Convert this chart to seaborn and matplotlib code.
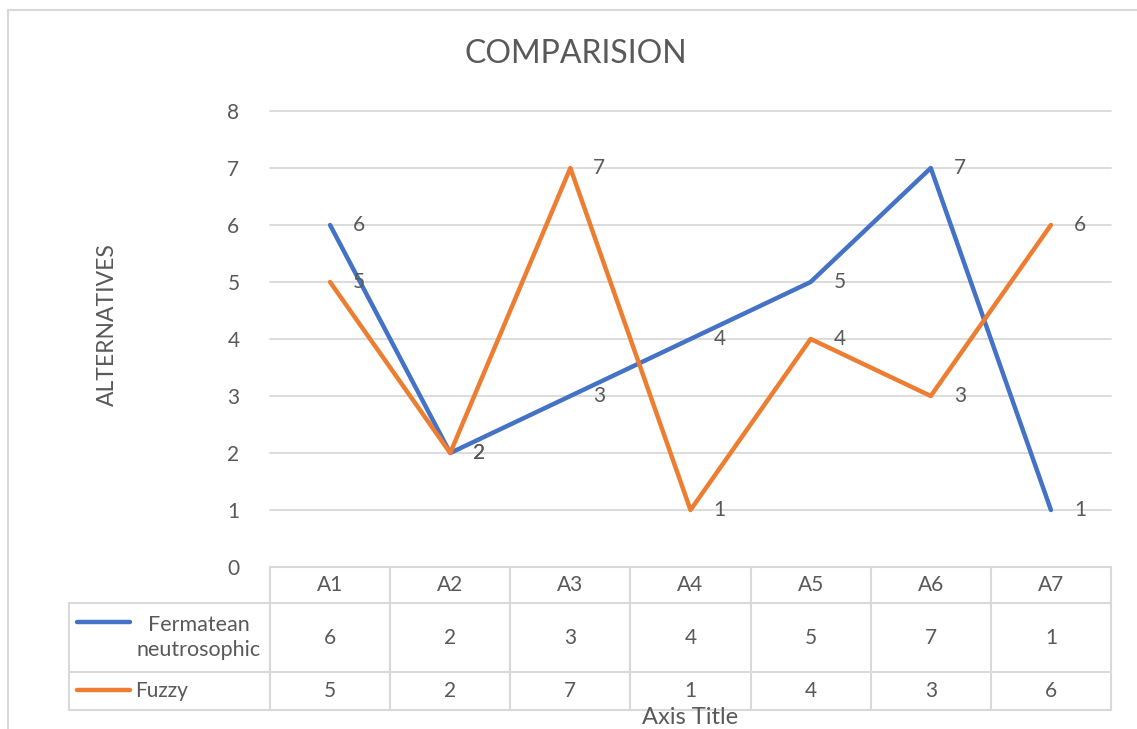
import matplotlib
matplotlib.use("Agg")
import matplotlib.pyplot as plt
import seaborn as sns
import pandas as pd

# Chart data
categories = ["A1", "A2", "A3", "A4", "A5", "A6", "A7"]
fermatean = [6, 2, 3, 4, 5, 7, 1]
fuzzy = [5, 2, 7, 1, 4, 3, 6]
series_names = ["Fermatean\nneutrosophic", "Fuzzy"]
y_ticks = [0, 1, 2, 3, 4, 5, 6, 7, 8]

BLUE = "#4472C4"
ORANGE = "#ED7D31"
TEXT = "#595959"
GRID = "#D9D9D9"
FS = 15

sns.set_theme(style="white")
plt.rcParams["font.family"] = ["Lato", "DejaVu Sans"]

W, H = 1137, 729
fig = plt.figure(figsize=(W / 100, H / 100), dpi=100)


def fx(px):
    return px / W


def fy(py):
    return 1 - py / H


# Outer chart frame
fig.add_artist(plt.Line2D([fx(8), fx(8)], [fy(10), 0], color=GRID, lw=1.5))
fig.add_artist(plt.Line2D([fx(8), 1], [fy(10), fy(10)], color=GRID, lw=1.5))

# Plot area
PL, PR, PT, PB = 270, 1111, 111, 567
ax = fig.add_axes([fx(PL), fy(PB), fx(PR) - fx(PL), fy(PT) - fy(PB)])

df = pd.DataFrame({
    "x": list(range(len(categories))) * 2,
    "value": fermatean + fuzzy,
    "series": [series_names[0]] * len(categories) + [series_names[1]] * len(categories),
})
sns.lineplot(data=df, x="x", y="value", hue="series",
             palette=[BLUE, ORANGE], linewidth=3.2, legend=False, ax=ax,
             solid_capstyle="round", solid_joinstyle="round", zorder=3)

ax.set_xlim(-0.5, len(categories) - 0.5)
ax.set_ylim(y_ticks[0], y_ticks[-1])
ax.set_yticks(y_ticks)
ax.set_yticklabels([str(t) for t in y_ticks])
ax.set_xticks([])
for t in y_ticks:
    ax.axhline(t, color=GRID, lw=1.3, zorder=1, clip_on=False)
for s in ax.spines.values():
    s.set_visible(False)
ax.tick_params(axis="y", length=0, pad=22, labelsize=FS, labelcolor=TEXT)
ax.set_xlabel("")
ax.set_ylabel("")

# Data labels to the right of each point
for vals in (fermatean, fuzzy):
    for i, v in enumerate(vals):
        ax.annotate(str(v), (i, v), xytext=(29, 0), textcoords="offset pixels",
                    ha="center", va="center", fontsize=FS, color=TEXT, zorder=4)

# Title and axis titles
fig.text(fx(576), fy(54), "COMPARISION", ha="center", va="center",
         fontsize=23, color=TEXT)
fig.text(fx(107), fy(325), "ALTERNATIVES", ha="center", va="center",
         rotation=90, fontsize=16.5, color=TEXT)
fig.text(fx(690), fy(718), "Axis Title", ha="center", va="center",
         fontsize=17, color=TEXT)

# Data table below the plot
TB = 710
tab = fig.add_axes([fx(PL), fy(TB), fx(PR) - fx(PL), fy(PB) - fy(TB)])
tab.set_xlim(ax.get_xlim())
tab.set_ylim(TB - PB, 0)
tab.axis("off")

n = len(categories)
px_per_cat = (PR - PL) / n


def cx(px):
    return (px - PL) / px_per_cat - 0.5


row_lines = [0, 603 - PB, 672 - PB, TB - PB]
left = cx(69)
# Horizontal lines
tab.plot([-0.5, n - 0.5], [row_lines[0]] * 2, color=GRID, lw=1.5, clip_on=False)
for r in row_lines[1:]:
    tab.plot([left, n - 0.5], [r, r], color=GRID, lw=1.5, clip_on=False)
# Vertical lines
for k in range(n + 1):
    tab.plot([k - 0.5, k - 0.5], [row_lines[0], row_lines[-1]], color=GRID, lw=1.5, clip_on=False)
tab.plot([left, left], [row_lines[1], row_lines[-1]], color=GRID, lw=1.5, clip_on=False)

hdr_y = (row_lines[0] + row_lines[1]) / 2
r1_y = (row_lines[1] + row_lines[2]) / 2
r2_y = (row_lines[2] + row_lines[3]) / 2
for i, c in enumerate(categories):
    tab.text(i, hdr_y, c, ha="center", va="center", fontsize=FS, color=TEXT)
    tab.text(i, r1_y, str(fermatean[i]), ha="center", va="center", fontsize=FS, color=TEXT)
    tab.text(i, r2_y, str(fuzzy[i]), ha="center", va="center", fontsize=FS, color=TEXT)

# Legend keys inside the table
tab.plot([cx(77), cx(130)], [622 - PB] * 2, color=BLUE, lw=3.2,
         solid_capstyle="round", clip_on=False)
tab.plot([cx(77), cx(130)], [690 - PB] * 2, color=ORANGE, lw=3.2,
         solid_capstyle="round", clip_on=False)
tab.text(cx(199), r1_y, series_names[0], ha="center", va="center",
         multialignment="center", fontsize=15.5, color=TEXT, linespacing=1.3)
tab.text(cx(135), r2_y, series_names[1], ha="left", va="center",
         fontsize=FS, color=TEXT)

fig.savefig("out.png", dpi=100, facecolor="white")
